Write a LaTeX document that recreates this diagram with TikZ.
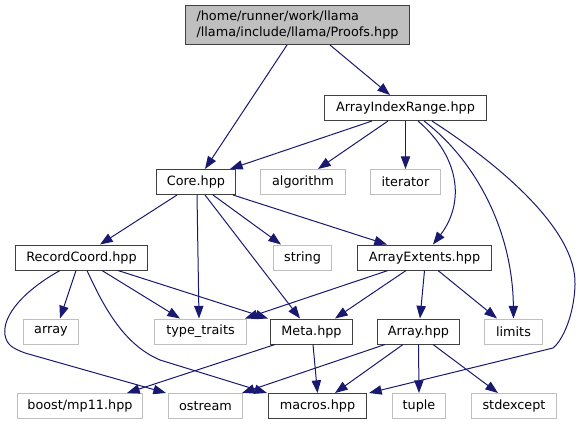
\documentclass[tikz,border=0pt]{standalone}
\usepackage{fontspec}
\setmainfont{DejaVu Sans}
\usetikzlibrary{arrows.meta}
\definecolor{edgeblue}{HTML}{191970}
\definecolor{boxgray}{HTML}{BFBFBF}
\definecolor{boxdark}{HTML}{404040}
\begin{document}
\begin{tikzpicture}[x=0.75pt,y=-0.75pt,
  base/.style={rectangle, line width=0.75pt, inner sep=0pt, minimum height=18.75pt,
    font=\fontsize{9.6pt}{11.5pt}\selectfont, fill=white},
  inc/.style={base, draw=boxdark},
  sys/.style={base, draw=boxgray},
  rootbox/.style={base, draw=boxdark, fill=boxgray, align=left, minimum height=29.25pt},
  dep/.style={draw=edgeblue, line width=0.75pt, -{Triangle[length=9.5pt,width=7pt]}, color=edgeblue}
]
\useasboundingbox (0,0) rectangle (581,425);

\node[rootbox, minimum width=168pt] (root) at (297.5,25) {/home/runner/work/llama\\/llama/include/llama/Proofs.hpp};
\node[inc, minimum width=121.5pt] (air) at (405.5,108) {ArrayIndexRange.hpp};
\node[inc, minimum width=59.25pt] (core) at (196,182) {Core.hpp};
\node[sys, minimum width=63.75pt] (algo) at (303,182) {algorithm};
\node[sys, minimum width=52.5pt] (iter) at (405.5,182) {iterator};
\node[inc, minimum width=99pt] (rc) at (81.5,257.5) {RecordCoord.hpp};
\node[sys, minimum width=43.5pt] (str) at (302.5,257.5) {string};
\node[inc, minimum width=100.5pt] (ae) at (424.5,257.5) {ArrayExtents.hpp};
\node[sys, minimum width=41.25pt] (arr) at (51,331.5) {array};
\node[sys, minimum width=69pt] (tt) at (200.5,331.5) {type\_traits};
\node[inc, minimum width=61.5pt] (meta) at (311.5,331.5) {Meta.hpp};
\node[inc, minimum width=61.5pt] (array) at (418.5,331.5) {Array.hpp};
\node[sys, minimum width=43.5pt] (lim) at (513.5,331.5) {limits};
\node[sys, minimum width=93.75pt] (boost) at (80,406) {boost/mp11.hpp};
\node[sys, minimum width=55.5pt] (ost) at (205.5,406) {ostream};
\node[inc, minimum width=73.5pt] (mac) at (317.5,406) {macros.hpp};
\node[sys, minimum width=39.75pt] (tup) at (419,406) {tuple};
\node[sys, minimum width=63.75pt] (stdx) at (514,406) {stdexcept};

% root
\draw[dep] ([shift={(-10.5,0)}]root.south) -- ([shift={(9,0)}]core.north);
\draw[dep] ([shift={(32.5,0)}]root.south) -- ([shift={(-15.5,0)}]air.north);
% ArrayIndexRange
\draw[dep] ([shift={(-33.5,0)}]air.south) -- ([shift={(34,0)}]core.north);
\draw[dep] ([shift={(-17.5,0)}]air.south) -- ([shift={(15,0)}]algo.north);
\draw[dep] (air.south) -- (iter.north);
\draw[dep] ([shift={(12.5,0)}]air.south) .. controls +(45,39) and +(30,-39) .. ([shift={(8.5,0)}]ae.north);
\draw[dep] ([shift={(18.5,0)}]air.south) .. controls +(51,39) and +(-1,-89) .. (lim.north);
\draw[dep] ([shift={(26.5,0)}]air.south) .. controls (500,165) and (577,230) .. (575,285)
  .. controls (574,315) and (563,340) .. (553,348) -- ([shift={(2,0)}]mac.north east);
% Core
\draw[dep] ([shift={(-19,0)}]core.south) -- ([shift={(18.5,0)}]rc.north);
\draw[dep] ([shift={(1,0)}]core.south) -- ([shift={(-1.5,0)}]tt.north);
\draw[dep] ([shift={(9,0)}]core.south) -- ([shift={(-11.5,0)}]meta.north);
\draw[dep] ([shift={(17,0)}]core.south) -- ([shift={(-21.5,0)}]str.north);
\draw[dep] ([shift={(37,0)}]core.south) -- ([shift={(-37.5,0)}]ae.north);
% RecordCoord
\draw[dep] ([shift={(-5.5,0)}]rc.south) -- ([shift={(9,0)}]arr.north);
\draw[dep] ([shift={(20.5,0)}]rc.south) -- ([shift={(-20.5,0)}]tt.north);
\draw[dep] ([shift={(36.5,0)}]rc.south) -- ([shift={(-43.5,0)}]meta.north);
\draw[dep] ([shift={(-21.5,0)}]rc.south) .. controls (25,290) and (2,315) .. (5,335)
  .. controls (7,345) and (12,348) .. (25,353) -- ([shift={(-39.5,0)}]ost.north);
\draw[dep] ([shift={(5.5,0)}]rc.south) .. controls (105,310) and (125,345) .. (160,360)
  -- ([shift={(-50.5,0)}]mac.north);
% ArrayExtents
\draw[dep] ([shift={(-36.5,0)}]ae.south) -- ([shift={(44.5,0)}]tt.north);
\draw[dep] ([shift={(-18.5,0)}]ae.south) -- ([shift={(23.5,0)}]meta.north);
\draw[dep] (ae.south) -- ([shift={(1.5,0)}]array.north);
\draw[dep] ([shift={(13.5,0)}]ae.south) -- ([shift={(-16.5,0)}]lim.north);
% Meta
\draw[dep] ([shift={(-36.5,0)}]meta.south) -- ([shift={(47,0)}]boost.north);
\draw[dep] ([shift={(1.5,0)}]meta.south) -- (mac.north);
% Array
\draw[dep] ([shift={(-33.5,0)}]array.south) -- ([shift={(36.5,0)}]ost.north);
\draw[dep] ([shift={(-15.5,0)}]array.south) -- ([shift={(17.5,0)}]mac.north);
\draw[dep] (array.south) -- (tup.north);
\draw[dep] ([shift={(14.5,0)}]array.south) -- ([shift={(-16,0)}]stdx.north);
\end{tikzpicture}
\end{document}
